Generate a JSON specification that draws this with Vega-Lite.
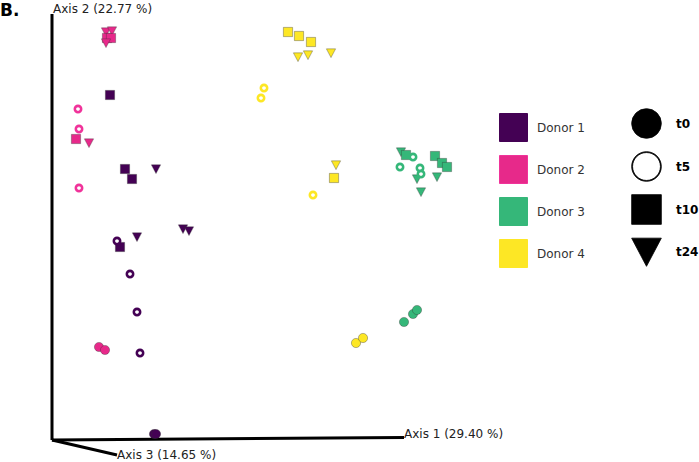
{
  "$schema": "https://vega.github.io/schema/vega-lite/v6.json",
  "width": 699,
  "height": 462,
  "autosize": {"type": "none"},
  "padding": 0,
  "background": "white",
  "config": {"view": {"stroke": null}},
  "datasets": {
    "axes": [
      {"x": 0, "y": 0, "x2": 0, "y2": 426},
      {"x": 0, "y": 0, "x2": 352, "y2": 2.5},
      {"x": 0, "y": 0, "x2": 65, "y2": -15}
    ],
    "labels": [
      {"x": 1, "y": 431, "text": "Axis 2 (22.77 %)", "kind": "axis"},
      {"x": 352, "y": 6, "text": "Axis 1 (29.40 %)", "kind": "axis"},
      {"x": 65, "y": -15, "text": "Axis 3 (14.65 %)", "kind": "axis"},
      {"x": -52, "y": 429, "text": "B.", "kind": "panel"}
    ],
    "points": [
      {"x": 54, "y": 408, "donor": "Donor 2", "time": "t24"},
      {"x": 60, "y": 409, "donor": "Donor 2", "time": "t24"},
      {"x": 55, "y": 402, "donor": "Donor 2", "time": "t10"},
      {"x": 59, "y": 402, "donor": "Donor 2", "time": "t10"},
      {"x": 54, "y": 397, "donor": "Donor 2", "time": "t24"},
      {"x": 37, "y": 297, "donor": "Donor 2", "time": "t24"},
      {"x": 24, "y": 301, "donor": "Donor 2", "time": "t10"},
      {"x": 26, "y": 331, "donor": "Donor 2", "time": "t5"},
      {"x": 27, "y": 311, "donor": "Donor 2", "time": "t5"},
      {"x": 27, "y": 252, "donor": "Donor 2", "time": "t5"},
      {"x": 47, "y": 93, "donor": "Donor 2", "time": "t0"},
      {"x": 53, "y": 90, "donor": "Donor 2", "time": "t0"},
      {"x": 58, "y": 345, "donor": "Donor 1", "time": "t10"},
      {"x": 73, "y": 271, "donor": "Donor 1", "time": "t10"},
      {"x": 80, "y": 261, "donor": "Donor 1", "time": "t10"},
      {"x": 68, "y": 193, "donor": "Donor 1", "time": "t10"},
      {"x": 104, "y": 271, "donor": "Donor 1", "time": "t24"},
      {"x": 131, "y": 211, "donor": "Donor 1", "time": "t24"},
      {"x": 137, "y": 209, "donor": "Donor 1", "time": "t24"},
      {"x": 85, "y": 203, "donor": "Donor 1", "time": "t24"},
      {"x": 65, "y": 199, "donor": "Donor 1", "time": "t5"},
      {"x": 78, "y": 166, "donor": "Donor 1", "time": "t5"},
      {"x": 85, "y": 128, "donor": "Donor 1", "time": "t5"},
      {"x": 88, "y": 87, "donor": "Donor 1", "time": "t5"},
      {"x": 102, "y": 6, "donor": "Donor 1", "time": "t0"},
      {"x": 104, "y": 6, "donor": "Donor 1", "time": "t0"},
      {"x": 236, "y": 408, "donor": "Donor 4", "time": "t10"},
      {"x": 247, "y": 404, "donor": "Donor 4", "time": "t10"},
      {"x": 259, "y": 398, "donor": "Donor 4", "time": "t10"},
      {"x": 282, "y": 262, "donor": "Donor 4", "time": "t10"},
      {"x": 246, "y": 383, "donor": "Donor 4", "time": "t24"},
      {"x": 256, "y": 385, "donor": "Donor 4", "time": "t24"},
      {"x": 279, "y": 387, "donor": "Donor 4", "time": "t24"},
      {"x": 284, "y": 275, "donor": "Donor 4", "time": "t24"},
      {"x": 212, "y": 352, "donor": "Donor 4", "time": "t5"},
      {"x": 209, "y": 342, "donor": "Donor 4", "time": "t5"},
      {"x": 261, "y": 245, "donor": "Donor 4", "time": "t5"},
      {"x": 304, "y": 97, "donor": "Donor 4", "time": "t0"},
      {"x": 311, "y": 102, "donor": "Donor 4", "time": "t0"},
      {"x": 349, "y": 288, "donor": "Donor 3", "time": "t24"},
      {"x": 365, "y": 261, "donor": "Donor 3", "time": "t24"},
      {"x": 385, "y": 263, "donor": "Donor 3", "time": "t24"},
      {"x": 369, "y": 248, "donor": "Donor 3", "time": "t24"},
      {"x": 354, "y": 285, "donor": "Donor 3", "time": "t10"},
      {"x": 383, "y": 284, "donor": "Donor 3", "time": "t10"},
      {"x": 390, "y": 277, "donor": "Donor 3", "time": "t10"},
      {"x": 395, "y": 273, "donor": "Donor 3", "time": "t10"},
      {"x": 361, "y": 283, "donor": "Donor 3", "time": "t5"},
      {"x": 348, "y": 273, "donor": "Donor 3", "time": "t5"},
      {"x": 368, "y": 272, "donor": "Donor 3", "time": "t5"},
      {"x": 369, "y": 266, "donor": "Donor 3", "time": "t5"},
      {"x": 352, "y": 118, "donor": "Donor 3", "time": "t0"},
      {"x": 361, "y": 126, "donor": "Donor 3", "time": "t0"},
      {"x": 365, "y": 130, "donor": "Donor 3", "time": "t0"}
    ]
  },
  "layer": [
    {
      "data": {"name": "axes"},
      "mark": {"type": "rule", "color": "black", "strokeWidth": 3},
      "encoding": {
        "x": {"field": "x", "type": "quantitative", "scale": {"domain": [-52, 647], "nice": false, "zero": false}, "axis": null},
        "y": {"field": "y", "type": "quantitative", "scale": {"domain": [-22, 440], "nice": false, "zero": false}, "axis": null},
        "x2": {"field": "x2"},
        "y2": {"field": "y2"}
      }
    },
    {
      "data": {"name": "labels"},
      "transform": [{"filter": "datum.kind === 'axis'"}],
      "mark": {"type": "text", "align": "left", "baseline": "middle", "font": "DejaVu Sans", "fontSize": 12, "color": "#222"},
      "encoding": {
        "x": {"field": "x", "type": "quantitative"},
        "y": {"field": "y", "type": "quantitative"},
        "text": {"field": "text"}
      }
    },
    {
      "data": {"name": "labels"},
      "transform": [{"filter": "datum.kind === 'panel'"}],
      "mark": {"type": "text", "align": "left", "baseline": "middle", "font": "DejaVu Sans", "fontWeight": "bold", "fontSize": 17, "color": "black"},
      "encoding": {
        "x": {"field": "x", "type": "quantitative"},
        "y": {"field": "y", "type": "quantitative"},
        "text": {"field": "text"}
      }
    },
    {
      "data": {"name": "points"},
      "transform": [{"filter": "datum.time !== 't5'"}],
      "mark": {"type": "point", "filled": true, "opacity": 1, "size": 85, "stroke": "#333", "strokeWidth": 0.6, "strokeOpacity": 0.6},
      "encoding": {
        "x": {"field": "x", "type": "quantitative"},
        "y": {"field": "y", "type": "quantitative"},
        "color": {
          "field": "donor", "type": "nominal",
          "scale": {"domain": ["Donor 1", "Donor 2", "Donor 3", "Donor 4"], "range": ["#440154", "#e7298a", "#35b779", "#fde725"]},
          "legend": {
            "title": null, "orient": "none", "legendX": 499, "legendY": 113, "padding": 0,
            "symbolType": "square", "symbolSize": 784, "symbolStrokeColor": "#222", "symbolStrokeWidth": 1, "symbolOpacity": 1,
            "labelFont": "DejaVu Sans", "labelFontSize": 12, "labelColor": "#333", "labelOffset": 9, "rowPadding": 9
          }
        },
        "shape": {
          "field": "time", "type": "nominal",
          "scale": {"domain": ["t0", "t5", "t10", "t24"], "range": ["circle", "M1,0A1,1,0,1,1,-1,0A1,1,0,1,1,1,0ZM0.94,0A0.94,0.94,0,1,0,-0.94,0A0.94,0.94,0,1,0,0.94,0Z", "square", "M-1,-0.9L1,-0.9L0,1Z"]},
          "legend": {
            "title": null, "orient": "none", "legendX": 631, "legendY": 108, "padding": 0,
            "symbolSize": 880, "symbolFillColor": "black", "symbolStrokeColor": "black", "symbolStrokeWidth": 0.8, "symbolOpacity": 1,
            "labelFont": "DejaVu Sans", "labelFontSize": 12, "labelFontWeight": "bold", "labelColor": "black", "labelOffset": 14, "rowPadding": 10
          }
        }
      }
    },
    {
      "data": {"name": "points"},
      "transform": [{"filter": "datum.time === 't5'"}],
      "mark": {"type": "point", "shape": "circle", "filled": false, "fill": "white", "opacity": 1, "size": 40, "strokeWidth": 2.6},
      "encoding": {
        "x": {"field": "x", "type": "quantitative"},
        "y": {"field": "y", "type": "quantitative"},
        "stroke": {
          "field": "donor", "type": "nominal",
          "scale": {"domain": ["Donor 1", "Donor 2", "Donor 3", "Donor 4"], "range": ["#440154", "#f0339a", "#35b779", "#fde725"]},
          "legend": null
        }
      }
    }
  ]
}
